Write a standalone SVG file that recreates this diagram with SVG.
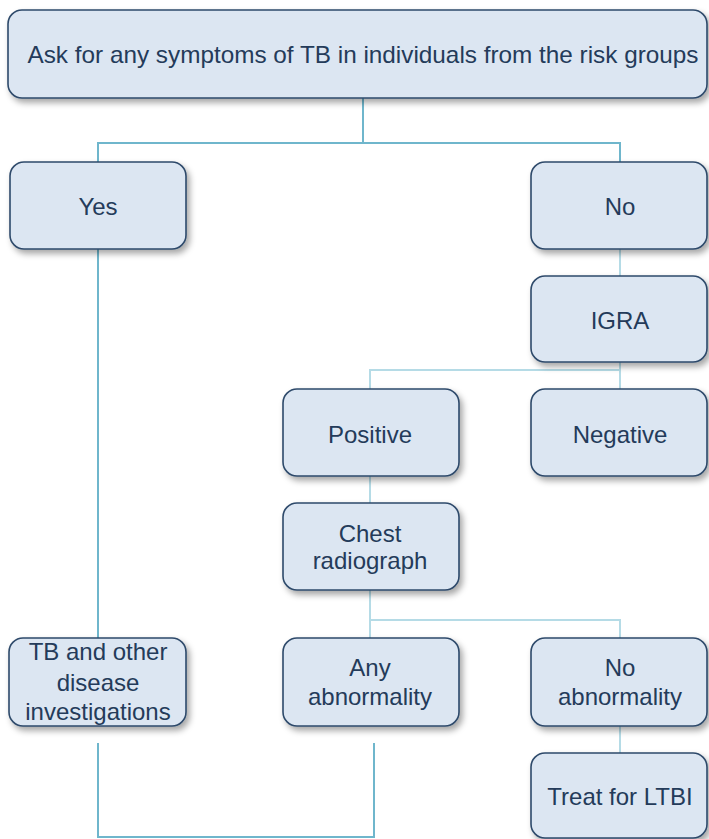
<svg xmlns="http://www.w3.org/2000/svg" width="709" height="839" viewBox="0 0 709 839">
<defs>
<filter id="sh" x="-10%" y="-10%" width="125%" height="135%">
<feDropShadow dx="3" dy="4" stdDeviation="3" flood-color="#000" flood-opacity="0.35"/>
</filter>
<style>
.box{fill:#dce6f2;stroke:#2e4a6b;stroke-width:1.6;filter:url(#sh)}
.t{font-family:"Liberation Sans","Open Sans",Arial,sans-serif;font-size:24px;fill:#243b5a;text-anchor:middle}
.c1{fill:none;stroke:#6fb6cc;stroke-width:2}
.c2{fill:none;stroke:#b5dbe6;stroke-width:2}
</style>
</defs>
<rect width="709" height="839" fill="#fff"/>
<g id="connectors">
<path class="c1" d="M363 98V143M98 162V143H620V162"/>
<path class="c1" d="M98 249V638"/>
<path class="c2" d="M620 249V276"/>
<path class="c2" d="M620 362V389M370 389V370H620"/>
<path class="c2" d="M370 476V503"/>
<path class="c2" d="M370 590V638M370 620H620V638"/>
<path class="c2" d="M620 726V753"/>
<path class="c1" d="M98 743V837H374V743"/>
</g>
<g id="top"><rect class="box" x="8" y="10" width="699" height="88" rx="14"/><text class="t" x="363" y="63" textLength="671" lengthAdjust="spacingAndGlyphs">Ask for any symptoms of TB in individuals from the risk groups</text></g>
<g id="yes"><rect class="box" x="10" y="162" width="176" height="87" rx="14"/><text class="t" x="98" y="215">Yes</text></g>
<g id="no"><rect class="box" x="531" y="162" width="176" height="87" rx="14"/><text class="t" x="620" y="215">No</text></g>
<g id="igra"><rect class="box" x="531" y="276" width="176" height="86" rx="14"/><text class="t" x="620" y="329">IGRA</text></g>
<g id="positive"><rect class="box" x="283" y="389" width="176" height="87" rx="14"/><text class="t" x="370" y="443">Positive</text></g>
<g id="negative"><rect class="box" x="531" y="389" width="176" height="87" rx="14"/><text class="t" x="620" y="443">Negative</text></g>
<g id="chest"><rect class="box" x="283" y="503" width="176" height="87" rx="14"/><text class="t" x="370" y="542">Chest</text><text class="t" x="370" y="569">radiograph</text></g>
<g id="tb"><rect class="box" x="9" y="638" width="177" height="88" rx="14"/><text class="t" x="98" y="660">TB and other</text><text class="t" x="98" y="691">disease</text><text class="t" x="98" y="720">investigations</text></g>
<g id="any"><rect class="box" x="283" y="638" width="176" height="88" rx="14"/><text class="t" x="370" y="676">Any</text><text class="t" x="370" y="705">abnormality</text></g>
<g id="noab"><rect class="box" x="531" y="638" width="176" height="88" rx="14"/><text class="t" x="620" y="676">No</text><text class="t" x="620" y="705">abnormality</text></g>
<g id="treat"><rect class="box" x="531" y="753" width="176" height="85" rx="14"/><text class="t" x="620" y="805">Treat for LTBI</text></g>
</svg>
